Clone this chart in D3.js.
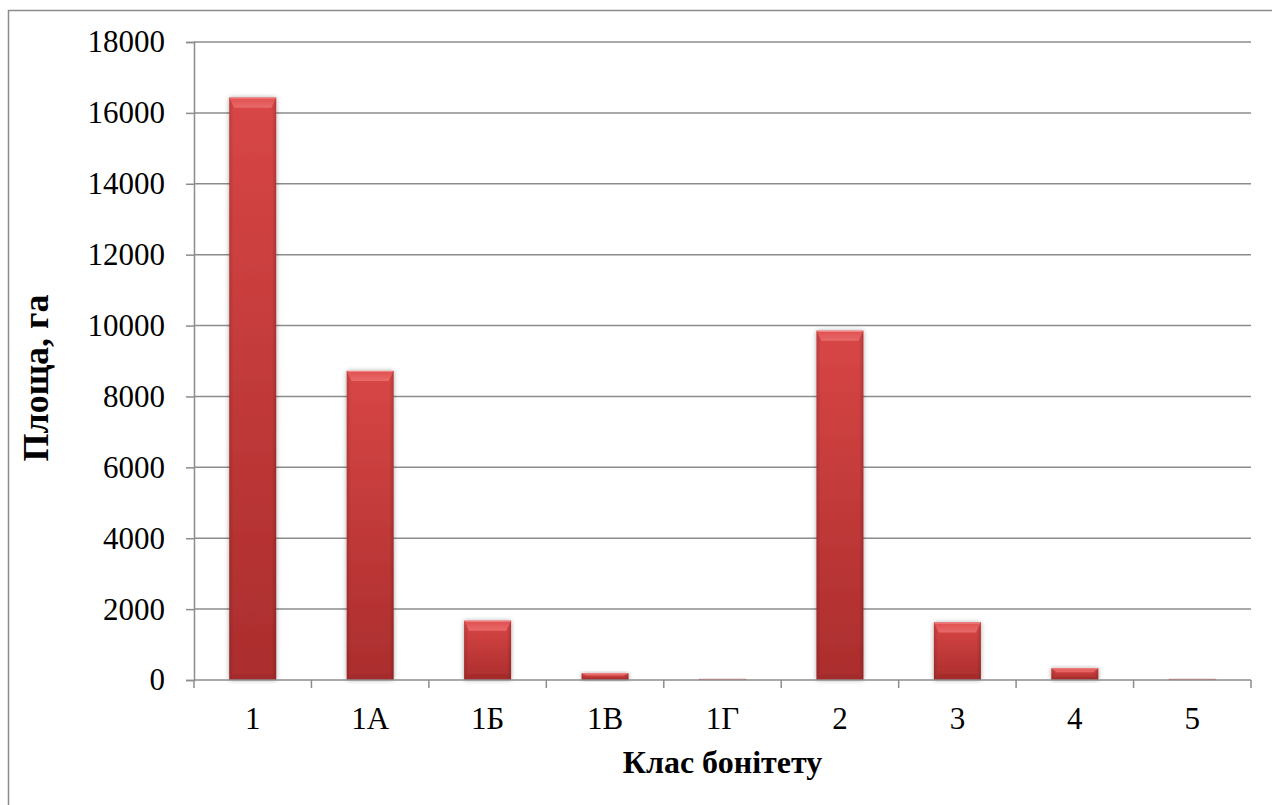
<!DOCTYPE html>
<html>
<head>
<meta charset="utf-8">
<script src="https://cdn.jsdelivr.net/npm/d3@7"></script>
<style>
  html, body { margin: 0; padding: 0; background: #fff; }
  svg { display: block; }
  text { font-family: "Liberation Serif", "Times New Roman", serif; fill: #000; }
</style>
</head>
<body>
<svg id="chart" width="1272" height="805"></svg>
<script>
// Площа насаджень за класами бонітету
const classes = ["1", "1А", "1Б", "1В", "1Г", "2", "3", "4", "5"];
const areas = [16430, 8720, 1670, 190, 30, 9850, 1620, 330, 30];
const yTicks = [0, 2000, 4000, 6000, 8000, 10000, 12000, 14000, 16000, 18000];
const xTitle = "Клас бонітету";
const yTitle = "Площа, га";

const svg = d3.select("#chart");
const margin = { left: 194, right: 1251, top: 42, bottom: 680 };

// outer frame
svg.append("rect")
  .attr("x", 8.5).attr("y", 10.5)
  .attr("width", 1290).attr("height", 820)
  .attr("fill", "none").attr("stroke", "#8c8c8c").attr("stroke-width", 1.5);

const x = d3.scaleBand()
  .domain(classes)
  .range([margin.left, margin.right])
  .paddingInner(0.6)
  .paddingOuter(0.3);

const y = d3.scaleLinear()
  .domain([0, 18000])
  .range([margin.bottom, margin.top]);

// gradients for the bevelled bars
const defs = svg.append("defs");
const body = defs.append("linearGradient").attr("id", "barBody")
  .attr("x1", 0).attr("y1", 0).attr("x2", 0).attr("y2", 1);
body.append("stop").attr("offset", "0%").attr("stop-color", "#d84646");
body.append("stop").attr("offset", "100%").attr("stop-color", "#ab2d2d");

const side = defs.append("linearGradient").attr("id", "barSide")
  .attr("x1", 0).attr("y1", 0).attr("x2", 1).attr("y2", 0);
side.append("stop").attr("offset", "0%").attr("stop-color", "#000").attr("stop-opacity", 0.14);
side.append("stop").attr("offset", "9%").attr("stop-color", "#000").attr("stop-opacity", 0);
side.append("stop").attr("offset", "91%").attr("stop-color", "#000").attr("stop-opacity", 0);
side.append("stop").attr("offset", "100%").attr("stop-color", "#000").attr("stop-opacity", 0.18);

const topBev = defs.append("linearGradient").attr("id", "barTop")
  .attr("x1", 0).attr("y1", 0).attr("x2", 0).attr("y2", 1);
topBev.append("stop").attr("offset", "0%").attr("stop-color", "#e04f4f");
topBev.append("stop").attr("offset", "100%").attr("stop-color", "#e86a6a");

const shadow = defs.append("filter").attr("id", "barShadow")
  .attr("x", "-20%").attr("y", "-20%").attr("width", "140%").attr("height", "140%");
shadow.append("feGaussianBlur").attr("in", "SourceAlpha").attr("stdDeviation", 2.5).attr("result", "b");
shadow.append("feComponentTransfer").attr("in", "b").attr("result", "s")
  .append("feFuncA").attr("type", "linear").attr("slope", 0.35);
const merge = shadow.append("feMerge");
merge.append("feMergeNode").attr("in", "s");
merge.append("feMergeNode").attr("in", "SourceGraphic");

// horizontal gridlines
svg.append("g")
  .selectAll("line")
  .data(yTicks.filter(d => d > 0))
  .join("line")
  .attr("x1", margin.left).attr("x2", margin.right)
  .attr("y1", d => y(d)).attr("y2", d => y(d))
  .attr("stroke", "#8c8c8c").attr("stroke-width", 1.5);

// y axis
const yAxis = svg.append("g")
  .attr("transform", `translate(${margin.left},0)`)
  .call(d3.axisLeft(y).tickValues(yTicks).tickSize(8).tickPadding(21).tickFormat(d3.format("d")));
yAxis.attr("font-family", null).attr("font-size", 31);
yAxis.select(".domain").attr("stroke", "#8c8c8c").attr("stroke-width", 1.5);
yAxis.selectAll(".tick line").attr("stroke", "#8c8c8c").attr("stroke-width", 1.5);
yAxis.selectAll(".tick text").attr("fill", "#000");

// bars
const bars = svg.append("g").selectAll("g.bar")
  .data(classes.map((c, i) => ({ c, v: areas[i] })))
  .join("g").attr("class", "bar");

bars.each(function (d) {
  const g = d3.select(this);
  const x0 = x(d.c), w = x.bandwidth();
  const y0 = y(d.v), h = y(0) - y(d.v);
  const bev = Math.min(10, h / 3), sb = Math.min(5, w / 6);
  const bb = Math.min(6, h / 4);
  g.append("rect")
    .attr("x", x0).attr("y", y0).attr("width", w).attr("height", h)
    .attr("fill", "url(#barBody)").attr("filter", "url(#barShadow)");
  g.append("rect")
    .attr("x", x0).attr("y", y0).attr("width", w).attr("height", h)
    .attr("fill", "url(#barSide)");
  if (h > 0.5) {
    // top bevel
    g.append("path")
      .attr("d", `M${x0},${y0} L${x0 + w},${y0} L${x0 + w - sb},${y0 + bev} L${x0 + sb},${y0 + bev} Z`)
      .attr("fill", "url(#barTop)");
    // bottom bevel
    g.append("path")
      .attr("d", `M${x0},${y0 + h} L${x0 + w},${y0 + h} L${x0 + w - sb},${y0 + h - bb} L${x0 + sb},${y0 + h - bb} Z`)
      .attr("fill", "#9c2828").attr("opacity", 0.5);
    // highlight edge
    g.append("line")
      .attr("x1", x0 + 1).attr("x2", x0 + w - 1)
      .attr("y1", y0 + 0.5).attr("y2", y0 + 0.5)
      .attr("stroke", "#f28a8a").attr("stroke-width", 1);
  }
});

// x axis
const xAxis = svg.append("g")
  .attr("transform", `translate(0,${margin.bottom})`)
  .call(d3.axisBottom(x).tickSize(0).tickPadding(27));
xAxis.attr("font-family", null).attr("font-size", 31);
xAxis.select(".domain").attr("stroke", "#8c8c8c").attr("stroke-width", 1.5)
  .attr("d", `M${margin.left},0H${margin.right}`);
xAxis.selectAll(".tick text").attr("fill", "#000");
// category boundary ticks
const step = x.step();
const bounds = d3.range(classes.length + 1).map(i => margin.left + i * step);
xAxis.append("g").selectAll("line")
  .data(bounds)
  .join("line")
  .attr("x1", d => d).attr("x2", d => d)
  .attr("y1", 0).attr("y2", 8)
  .attr("stroke", "#8c8c8c").attr("stroke-width", 1.5);

// axis titles
svg.append("text")
  .attr("x", (margin.left + margin.right) / 2).attr("y", 773)
  .attr("text-anchor", "middle")
  .attr("font-size", 32).attr("font-weight", "bold")
  .text(xTitle);

svg.append("text")
  .attr("transform", "translate(48,378) rotate(-90)")
  .attr("text-anchor", "middle")
  .attr("font-size", 36).attr("font-weight", "bold")
  .text(yTitle);
</script>
</body>
</html>
